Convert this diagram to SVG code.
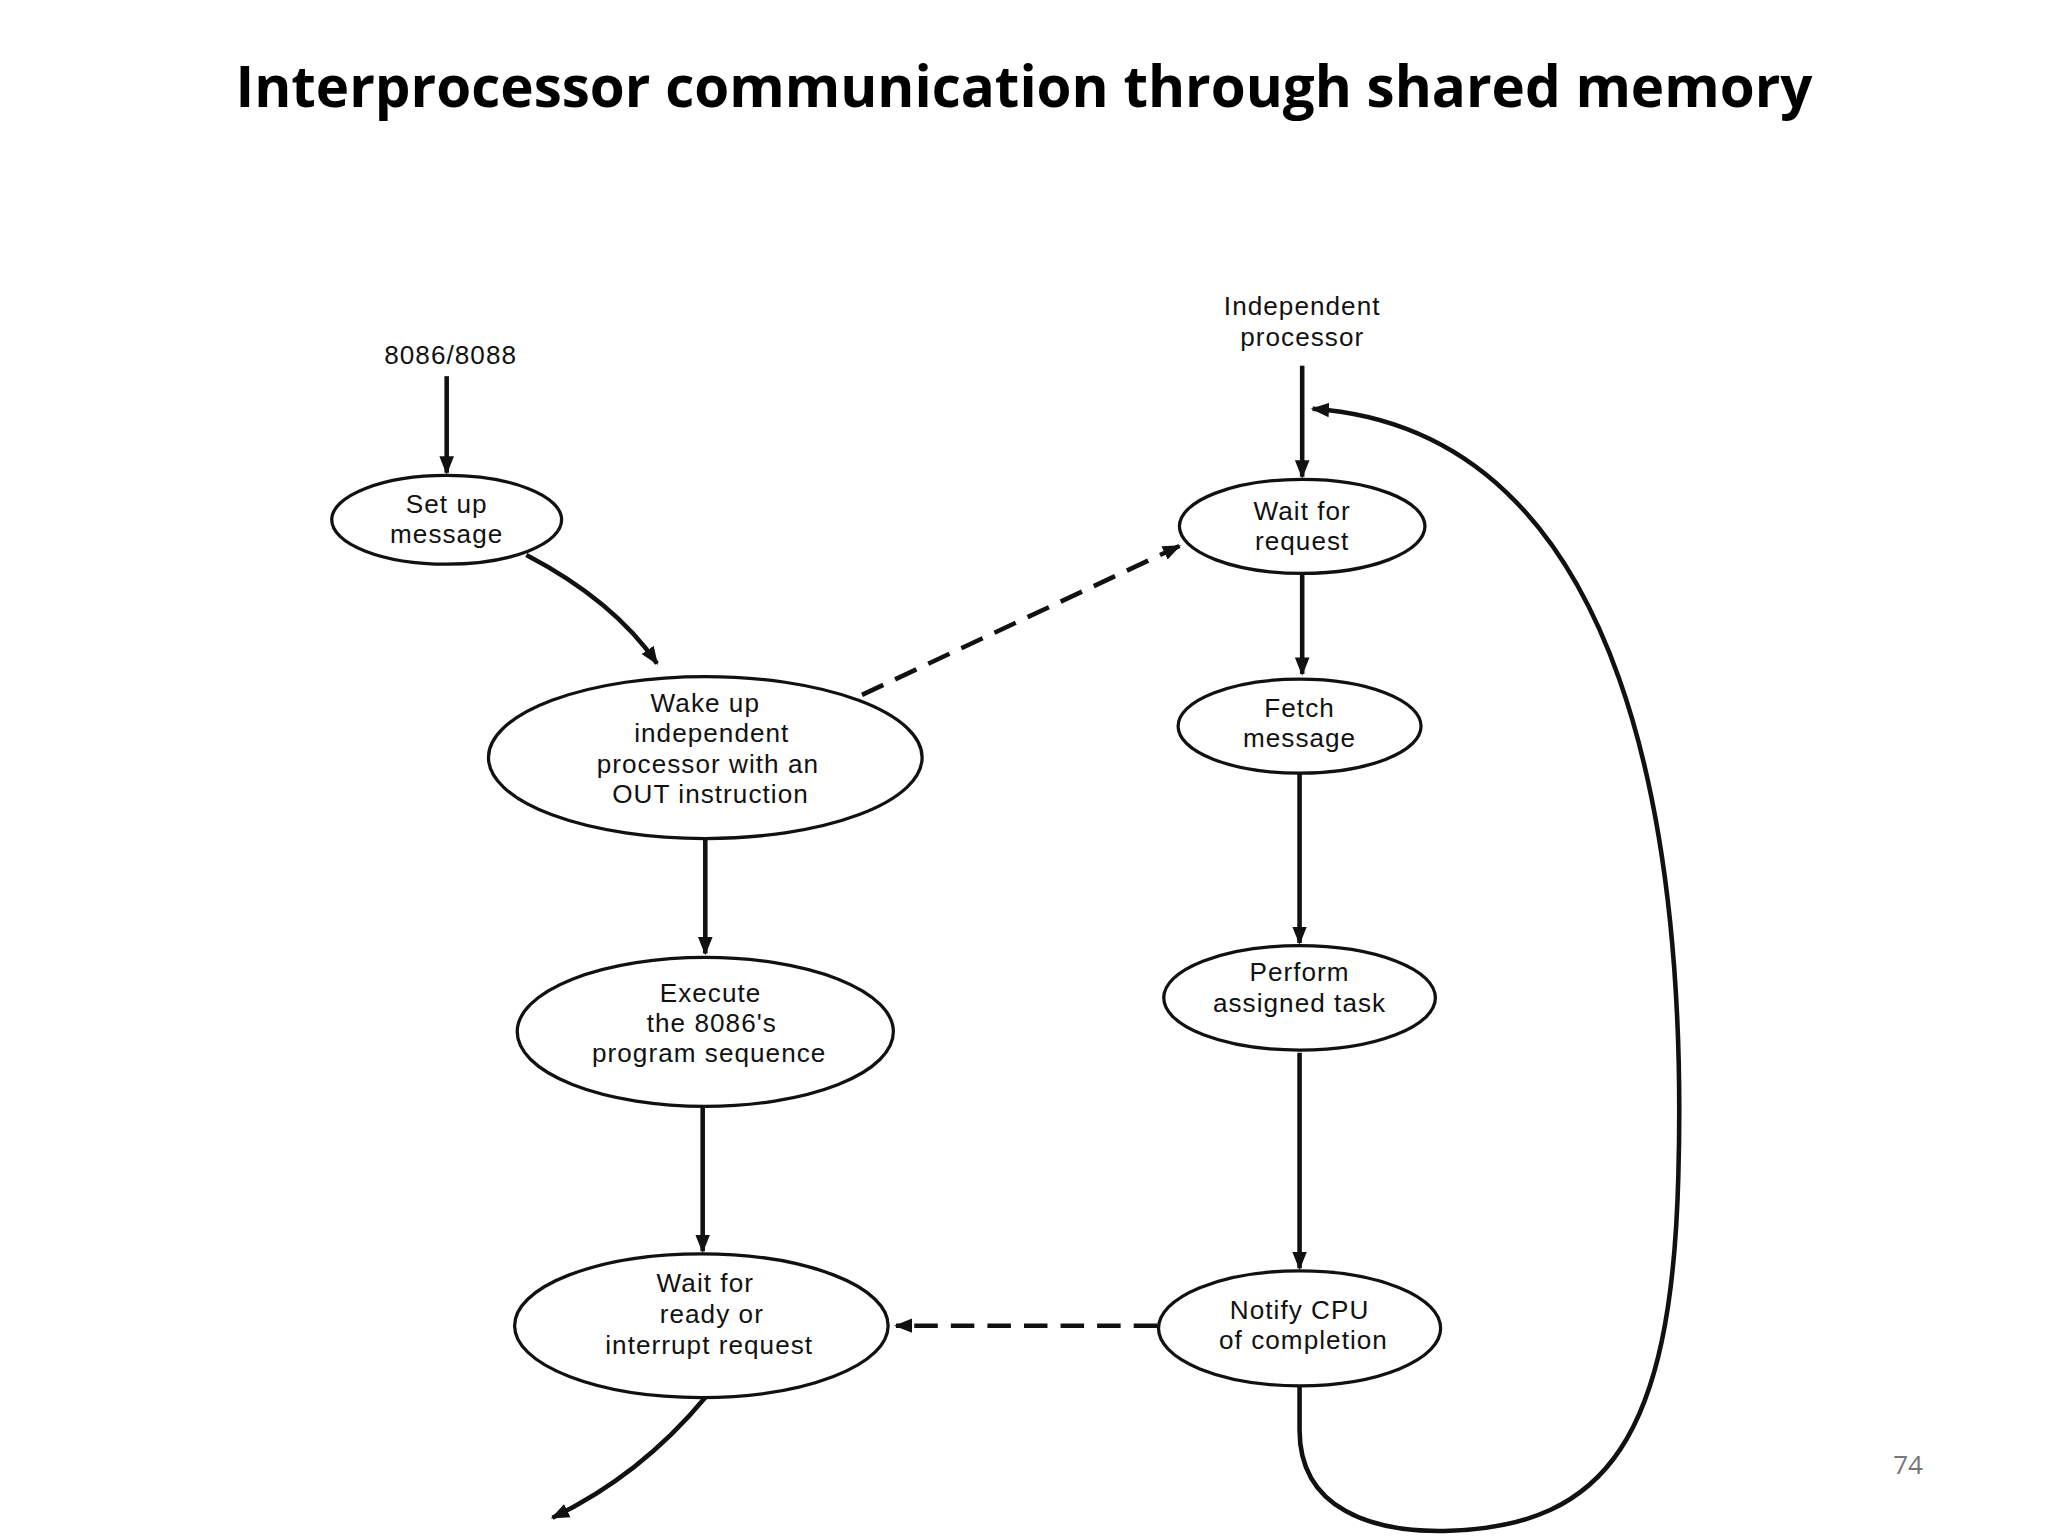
<svg xmlns="http://www.w3.org/2000/svg" width="2048" height="1536" viewBox="0 0 2048 1536">
<style>
.n{fill:#fff;stroke:#111;stroke-width:2.5}
.t{font-family:"Liberation Sans",Arial,sans-serif;font-size:20px;letter-spacing:0.8px;fill:#111;text-anchor:middle}
.c{fill:none;stroke:#111;stroke-width:3.5}
.d{stroke-dasharray:18 10}
</style>
<defs><marker id="a" viewBox="0 0 10 10" refX="9" refY="5" markerWidth="4" markerHeight="4" orient="auto"><path d="M0,1 L10,5 L0,9 z" fill="#111"/></marker></defs>
<rect width="2048" height="1536" fill="#fff"/>
<text x="1024" y="107" font-family="'Open Sans',sans-serif" font-weight="bold" font-size="56.5" text-anchor="middle" fill="#000">Interprocessor communication through shared memory</text>
<text x="1908" y="1474" font-family="'Open Sans',sans-serif" font-size="26" text-anchor="middle" fill="#777">74</text>
<g transform="scale(1.3061)">
<g id="connectors">
<path class="c" d="M342,288 L342,362" marker-end="url(#a)"/>
<path class="c" d="M403,425 Q470,460 503,508" marker-end="url(#a)"/>
<path class="c d" d="M660,532 L903,418" marker-end="url(#a)"/>
<path class="c" d="M540,643 L540,730" marker-end="url(#a)"/>
<path class="c" d="M538,846 L538,958" marker-end="url(#a)"/>
<path class="c" d="M540,1070 Q490,1130 423,1162" marker-end="url(#a)"/>
<path class="c" d="M997,280 L997,365" marker-end="url(#a)"/>
<path class="c" d="M997,440 L997,516" marker-end="url(#a)"/>
<path class="c" d="M995,592 L995,722" marker-end="url(#a)"/>
<path class="c" d="M995,806 L995,971" marker-end="url(#a)"/>
<path class="c d" d="M886,1015 L686,1015" marker-end="url(#a)"/>
<path class="c" d="M995,1062 L995,1095 C995,1155 1050,1174 1110,1172 C1230,1168 1280,1100 1285,900 C1292,650 1250,330 1005,313" marker-end="url(#a)"/>
</g>
<g id="l1"><text class="t" x="345" y="279">8086/8088</text></g>
<g id="l2"><text class="t" x="997" y="241">Independent</text><text class="t" x="997" y="265">processor</text></g>
<g id="setup"><ellipse class="n" cx="342" cy="398" rx="88" ry="34"/><text class="t" x="342" y="393">Set up</text><text class="t" x="342" y="416">message</text></g>
<g id="wake"><ellipse class="n" cx="540" cy="580" rx="166" ry="62"/><text class="t" x="540" y="545">Wake up</text><text class="t" x="545" y="568">independent</text><text class="t" x="542" y="592">processor with an</text><text class="t" x="544" y="615">OUT instruction</text></g>
<g id="exec"><ellipse class="n" cx="540" cy="790" rx="144" ry="57"/><text class="t" x="544" y="767">Execute</text><text class="t" x="545" y="790">the 8086's</text><text class="t" x="543" y="813">program sequence</text></g>
<g id="waitready"><ellipse class="n" cx="537" cy="1015" rx="143" ry="55"/><text class="t" x="540" y="989">Wait for</text><text class="t" x="545" y="1013">ready or</text><text class="t" x="543" y="1037">interrupt request</text></g>
<g id="waitreq"><ellipse class="n" cx="997" cy="403" rx="94" ry="36"/><text class="t" x="997" y="398">Wait for</text><text class="t" x="997" y="421">request</text></g>
<g id="fetch"><ellipse class="n" cx="995" cy="556" rx="93" ry="36"/><text class="t" x="995" y="549">Fetch</text><text class="t" x="995" y="572">message</text></g>
<g id="perform"><ellipse class="n" cx="995" cy="764" rx="104" ry="40"/><text class="t" x="995" y="751">Perform</text><text class="t" x="995" y="775">assigned task</text></g>
<g id="notify"><ellipse class="n" cx="995" cy="1017" rx="108" ry="44"/><text class="t" x="995" y="1010">Notify CPU</text><text class="t" x="998" y="1033">of completion</text></g>
</g>
</svg>
